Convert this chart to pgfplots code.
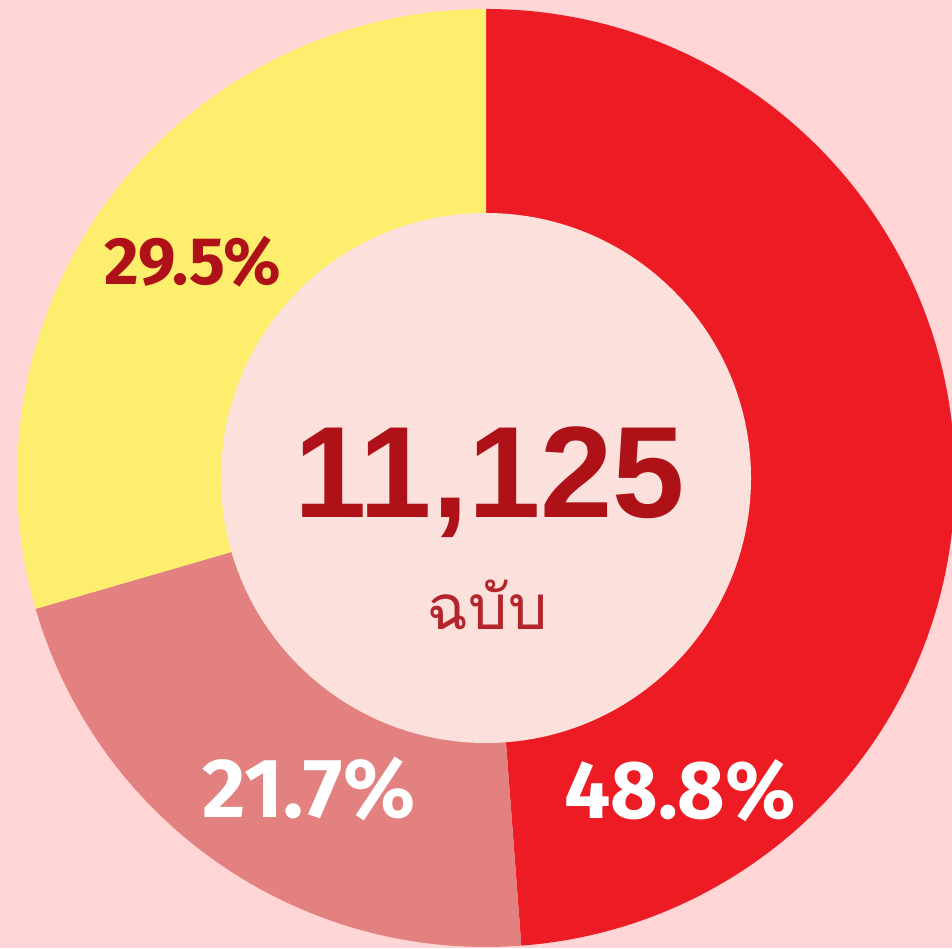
\documentclass[border=0pt]{standalone}
\usepackage{pgfplots}
\pgfplotsset{compat=1.18}
\usepackage{pgfplotstable}
\usepackage{fontspec}
\setmainfont{Liberation Sans}
\newfontfamily\numfont{Fira Sans}
\newfontfamily\bigfont{Liberation Sans Bold}
\newfontfamily\thaifont[Script=Thai]{Loma}
\definecolor{bg}{HTML}{FFD5D6}
\definecolor{inner}{HTML}{FBE0DC}
\definecolor{cRed}{HTML}{ED1C24}
\definecolor{cPink}{HTML}{E38080}
\definecolor{cYellow}{HTML}{FDEE6D}
\definecolor{dark}{HTML}{AE1117}
\definecolor{thaic}{HTML}{B3242B}

\pgfplotstableread{
value
48.8
21.7
29.5
}\shares
\pgfplotstablegetelem{0}{value}\of\shares \let\vA\pgfplotsretval
\pgfplotstablegetelem{1}{value}\of\shares \let\vB\pgfplotsretval
\pgfplotstablegetelem{2}{value}\of\shares \let\vC\pgfplotsretval
\pgfmathsetmacro\aA{90}
\pgfmathsetmacro\aB{\aA-3.6*\vA}
\pgfmathsetmacro\aC{\aB-3.6*\vB}
\pgfmathsetmacro\aD{\aC-3.6*\vC}

\begin{document}
\begin{tikzpicture}
\begin{axis}[x=1pt, y=1pt, xmin=0, xmax=952, ymin=0, ymax=948,
  hide axis, clip=true]
\fill[bg] (axis cs:0,0) rectangle (axis cs:952,948);
\fill[cRed] (axis cs:486,470) -- ++(\aA:469pt) arc[start angle=\aA, end angle=\aB, radius=469pt] -- cycle;
\fill[cPink] (axis cs:486,470) -- ++(\aB:469pt) arc[start angle=\aB, end angle=\aC, radius=469pt] -- cycle;
\fill[cYellow] (axis cs:486,470) -- ++(\aC:469pt) arc[start angle=\aC, end angle=\aD, radius=469pt] -- cycle;
\fill[inner] (axis cs:486,470) circle[radius=265pt];
\node[anchor=base, text=dark, inner sep=0pt] at (axis cs:193,663) {\numfont\bfseries\fontsize{67}{67}\selectfont \vC\%};
\node[anchor=base, text=white, inner sep=0pt] at (axis cs:309,131) {\numfont\bfseries\fontsize{84}{84}\selectfont \vB\%};
\node[anchor=base, text=white, inner sep=0pt] at (axis cs:680,130) {\numfont\bfseries\fontsize{82}{82}\selectfont \vA\%};
\node[anchor=base, text=dark, inner sep=0pt] at (axis cs:490,430) {\bigfont\fontsize{130}{130}\selectfont 11,125};
\node[anchor=base, text=thaic, inner sep=0pt] at (axis cs:487,318) {\thaifont\fontsize{62}{62}\selectfont ฉบับ};
\end{axis}
\end{tikzpicture}
\end{document}
